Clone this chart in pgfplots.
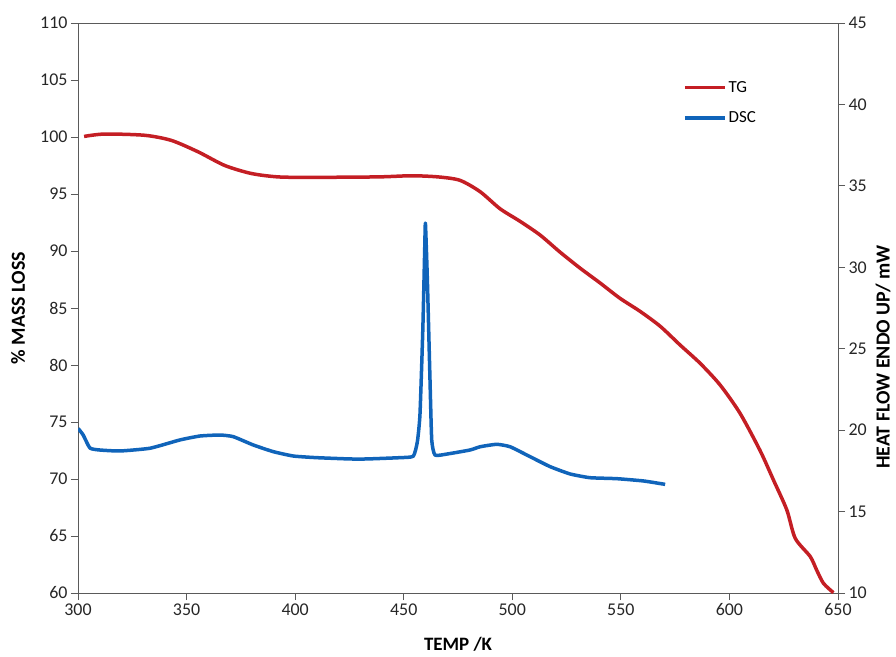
\documentclass[border=0pt]{standalone}
\usepackage{fontspec}
\setmainfont{Carlito}
\usepackage{pgfplots}
\usepackage{pgfplotstable}
\pgfplotsset{compat=1.18}

\definecolor{tgred}{RGB}{196,30,36}
\definecolor{dscblue}{RGB}{16,100,186}
\definecolor{axgray}{RGB}{90,90,90}

% TG curve (left axis, % mass loss)
\pgfplotstableread{
T     m
302.8 100.05
312.3 100.26
330.7 100.15
343.0 99.70
355.3 98.70
367.6 97.50
379.8 96.80
392.1 96.50
407.5 96.46
438.2 96.50
453.5 96.60
465.8 96.50
475.9 96.20
485.2 95.20
494.4 93.70
503.6 92.60
512.8 91.40
522.0 89.90
531.2 88.50
540.4 87.20
549.6 85.85
558.9 84.70
568.1 83.40
577.3 81.75
586.5 80.15
595.7 78.25
604.9 75.76
614.1 72.50
620.3 69.90
626.4 67.30
630.3 64.80
637.2 63.20
640.2 62.00
643.3 60.85
647.9 60.03
}\tgdata

% DSC curve (right axis, heat flow / mW)
\pgfplotstableread{
T     q
300.1 20.10
302.4 19.70
305.5 18.90
310.1 18.78
319.3 18.72
333.2 18.89
347.0 19.40
356.2 19.64
365.4 19.70
371.5 19.60
380.7 19.09
389.9 18.68
399.2 18.41
409.9 18.31
425.3 18.23
432.9 18.23
448.3 18.31
454.4 18.40
456.3 19.30
457.5 21.00
458.8 26.20
459.7 31.30
460.0 32.70
460.9 29.20
462.1 23.10
462.9 19.40
464.4 18.47
469.8 18.53
480.5 18.78
485.2 18.98
492.8 19.13
499.0 18.98
508.2 18.37
517.4 17.76
526.6 17.31
535.8 17.08
548.1 17.02
560.4 16.88
570.4 16.67
}\dscdata

\pgfplotsset{
  base/.style={
    scale only axis, width=760bp, height=570bp,
    xmin=300, xmax=650,
    tick align=outside, major tick length=7bp,
    every tick/.style={axgray, line width=0.8bp},
    axis line style={axgray, line width=0.9bp},
    ticklabel style={font=\fontsize{18}{18}\selectfont, text=black!85},
    /pgf/number format/assume math mode=true,
  },
}

\begin{document}
\begin{tikzpicture}
\path[use as bounding box] (-78bp,-64bp) rectangle (818bp,593bp);
\begin{axis}[base,
    ymin=60, ymax=110, ytick={60,65,...,110},
    xtick={300,350,...,650},
    xtick pos=bottom, ytick pos=left,
    xlabel={TEMP /K}, ylabel={\% MASS LOSS},
    xlabel style={at={(0.5,-57bp)}, anchor=base, font=\bfseries\fontsize{19}{19}\selectfont},
    ylabel style={at={(-60bp,0.5)}, anchor=center, font=\bfseries\fontsize{20}{20}\selectfont},
]
\addplot[tgred, line width=3.5bp, line join=round, smooth, tension=0.45] table[x=T, y=m] {\tgdata};
\end{axis}
\begin{axis}[base,
    axis x line=none, axis y line*=right,
    ymin=10, ymax=45, ytick={10,15,...,45},
    ylabel={HEAT FLOW ENDO UP/ mW},
    ylabel style={at={(760bp+45bp,0.414)}, anchor=center, font=\bfseries\fontsize{20}{20}\selectfont},
    legend style={draw=none, fill=none, at={(605/760,514/570)}, anchor=north west,
      font=\fontsize{17}{17}\selectfont, inner sep=0pt, row sep=14bp},
    legend cell align=left,
    legend image code/.code={\draw[#1] (0bp,0bp) -- (40bp,0bp);},
]
\addlegendimage{tgred, line width=3.5bp}
\addlegendentry{TG}
\addplot[dscblue, line width=3.5bp, line join=round, smooth, tension=0.3] table[x=T, y=q] {\dscdata};
\addlegendentry{DSC}
\end{axis}
\end{tikzpicture}
\end{document}
